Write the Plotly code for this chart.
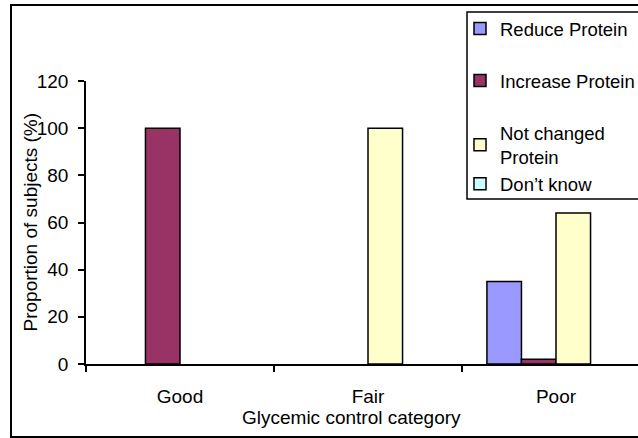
import plotly.graph_objects as go

# Glycemic control categories and share of subjects per response (%)
categories = ["Good", "Fair", "Poor"]
reduce_protein = [0, 0, 35]
increase_protein = [100, 0, 2]
not_changed_protein = [0, 100, 64]
dont_know = [0, 0, 0]

series_names = ["Reduce Protein", "Increase Protein", "Not changed<br>Protein", "Don\u2019t know"]
series_values = [reduce_protein, increase_protein, not_changed_protein, dont_know]
series_colors = ["#9999FF", "#993366", "#FFFFCC", "#CCFFFF"]
series_groups = ["a", "b", "c", "c"]
y_ticks = [0, 20, 40, 60, 80, 100, 120]

W, H = 638, 438
L, R, T, B = 86, 0, 81, 74
FONT = "Liberation Sans, Arial, sans-serif"
FS = 19

fig = go.Figure()
for name, vals, col, grp in zip(series_names, series_values, series_colors, series_groups):
    # zero shares are left empty so no outline is stroked along the baseline
    fig.add_trace(go.Bar(
        x=categories, y=[v if v else None for v in vals], name=name, legendgroup=grp,
        marker=dict(color=col, line=dict(color="black", width=1.5)),
    ))

plot_w = W - L - R
plot_h = H - T - B


def px_x(px):
    return (px - L) / plot_w


def px_y(py):
    return (H - B - py) / plot_h


# outer chart frame and legend frame
fig.add_shape(type="rect", xref="paper", yref="paper",
              x0=px_x(11), x1=px_x(660), y0=px_y(437), y1=px_y(5),
              line=dict(color="black", width=2), fillcolor="rgba(0,0,0,0)", layer="below")
fig.add_shape(type="rect", xref="paper", yref="paper",
              x0=px_x(467), x1=px_x(660), y0=px_y(199), y1=px_y(12),
              line=dict(color="black", width=1.5), fillcolor="white", layer="above")

fig.add_annotation(text="Glycemic control category", xref="paper", yref="paper",
                   x=px_x(351), y=px_y(417), xanchor="center", yanchor="middle", showarrow=False,
                   font=dict(family=FONT, size=FS, color="black"))
fig.add_annotation(text="Proportion of subjects (%)", xref="paper", yref="paper",
                   x=px_x(30), y=0.5, xanchor="center", yanchor="middle", textangle=-90,
                   showarrow=False, font=dict(family=FONT, size=FS, color="black"))

fig.update_layout(
    width=W, height=H,
    margin=dict(l=L, r=R, t=T, b=B, autoexpand=False),
    paper_bgcolor="white", plot_bgcolor="white",
    barmode="group", bargap=0.265, bargroupgap=0,
    font=dict(family=FONT, size=FS, color="black"),
    showlegend=True,
    legend=dict(
        xref="container", yref="container",
        x=460 / W, y=1 - 10 / H, xanchor="left", yanchor="top",
        borderwidth=0, bgcolor="rgba(0,0,0,0)",
        traceorder="grouped", tracegroupgap=25, itemwidth=30,
        font=dict(family=FONT, size=18.5, color="black"),
    ),
    xaxis=dict(
        range=[-0.5, -0.5 + plot_w / 188], showline=True, linecolor="black", linewidth=1.5,
        ticks="outside", tickson="boundaries", ticklen=6, tickcolor="black", tickwidth=1.5,
        ticklabelstandoff=14, showgrid=False, zeroline=False,
    ),
    yaxis=dict(
        range=[0, 120], tickvals=y_ticks, showline=True, linecolor="black", linewidth=1.5,
        ticks="outside", ticklen=6, tickcolor="black", tickwidth=1.5,
        ticklabelstandoff=6, showgrid=False, zeroline=False,
    ),
)

fig.write_html("out.html")
